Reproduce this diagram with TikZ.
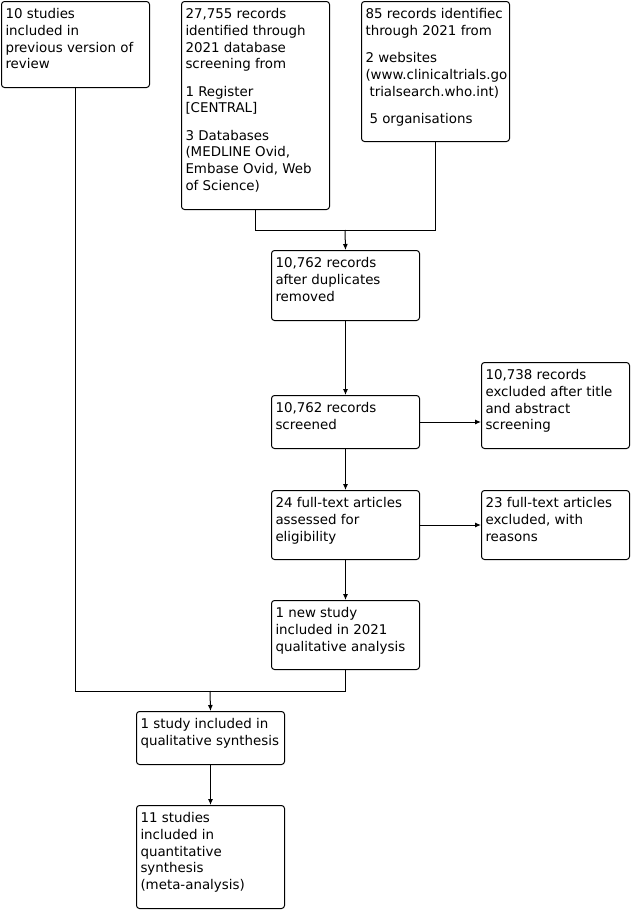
\documentclass[tikz,border=0pt]{standalone}
\usepackage{fontspec}
\setmainfont{DejaVu Sans}
\usetikzlibrary{arrows.meta}
\newcommand\bt[3]{\begin{minipage}[t][\dimexpr#2pt-11pt\relax][t]{\dimexpr#1pt-8pt\relax}\begin{tabular}[t]{@{}l@{}}#3\end{tabular}\end{minipage}}
\tikzset{
  box/.style={draw, line width=1pt, rounded corners=3pt, inner xsep=4pt, inner ysep=5.5pt, anchor=north west, font=\fontsize{13.4}{16.7}\selectfont},
  arr/.style={line width=1pt, -{Latex[length=6pt,width=5pt]}},
  ln/.style={line width=1pt}
}
\begin{document}
\begin{tikzpicture}[x=1pt,y=-1pt]
\fill[white] (0,0) rectangle (632,910);
\useasboundingbox (0,0) rectangle (632,910);
\node[box] (A) at (1,1) {\bt{148}{86}{10 studies\\ included in\\ previous version of\\ review}};
\node[box] (B) at (181,1) {\bt{148}{208}{27,755 records\\ identified through\\ 2021 database\\ screening from\\[10.6pt] 1 Register\\ {[}CENTRAL{]}\\[10.6pt] 3 Databases\\ (MEDLINE Ovid,\\ Embase Ovid, Web\\ of Science)}};
\node[box] (C) at (361,1) {\bt{148}{140}{85 records identifiec\\ through 2021 from\\[10.6pt] 2 websites\\ (www.clinicaltrials.go\\ \hspace*{4pt}trialsearch.who.int)\\[10.6pt] \hspace*{4pt}5 organisations}};
\node[box] (D) at (271,250) {\bt{148}{70}{10,762 records\\ after duplicates\\ removed}};
\node[box] (E) at (271,395) {\bt{148}{53}{10,762 records\\ screened}};
\node[box] (F) at (481,362) {\bt{148}{86}{10,738 records\\ excluded after title\\ and abstract\\ screening}};
\node[box] (G) at (271,490) {\bt{148}{69}{24 full-text articles\\ assessed for\\ eligibility}};
\node[box] (H) at (481,490) {\bt{148}{69}{23 full-text articles\\ excluded, with\\ reasons}};
\node[box] (I) at (271,600) {\bt{148}{69}{1 new study\\ included in 2021\\ qualitative analysis}};
\node[box] (J) at (136,711) {\bt{148}{53}{1 study included in\\ qualitative synthesis}};
\node[box] (K) at (136,805) {\bt{148}{103}{11 studies\\ included in\\ quantitative\\ synthesis\\ (meta-analysis)}};
\coordinate (m1) at (345,230);
\coordinate (m2) at (210,691);
\draw[ln] (B.south) |- (C.south |- m1) -- (C.south);
\draw[arr] (m1) -- (D.north);
\draw[arr] (D.south) -- (E.north);
\draw[arr] (E.east) -- (F.west |- E.east);
\draw[arr] (E.south) -- (G.north);
\draw[arr] (G.east) -- (H.west);
\draw[arr] (G.south) -- (I.north);
\draw[ln] (A.south) |- (I.south |- m2) -- (I.south);
\draw[arr] (m2) -- (J.north);
\draw[arr] (J.south) -- (K.north);
\end{tikzpicture}
\end{document}
